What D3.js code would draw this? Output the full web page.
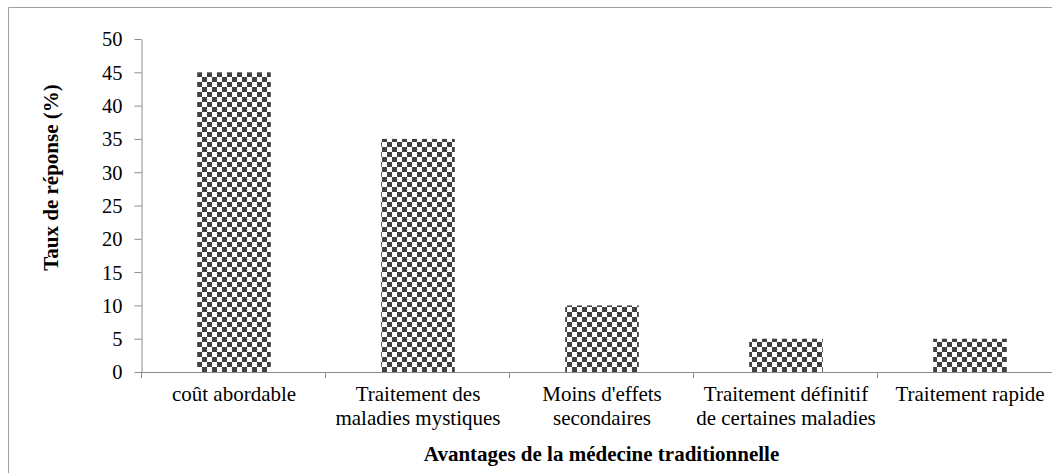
<!DOCTYPE html>
<html>
<head>
<meta charset="utf-8">
<script src="https://cdn.jsdelivr.net/npm/d3@7"></script>
<style>
  html, body { margin: 0; padding: 0; background: #fff; overflow: hidden; }
  svg { display: block; }
  svg text { font-family: "Liberation Serif", "DejaVu Serif", serif; }
</style>
</head>
<body>
<svg id="chart" width="1052" height="473"></svg>
<script>
const categories = [
  "coût abordable",
  "Traitement des\nmaladies mystiques",
  "Moins d'effets\nsecondaires",
  "Traitement définitif\nde certaines maladies",
  "Traitement rapide"
];
const values = [45, 35, 10, 5, 5];
const yTicks = [0, 5, 10, 15, 20, 25, 30, 35, 40, 45, 50];
const xTitle = "Avantages de la médecine traditionnelle";
const yTitle = "Taux de réponse (%)";

const svg = d3.select("#chart");
const FS = 21;
const TFS = 20.5;

// pattern
const defs = svg.append("defs");
const pat = defs.append("pattern")
  .attr("id", "checker")
  .attr("patternUnits", "userSpaceOnUse")
  .attr("width", 10).attr("height", 10)
  .attr("x", 197).attr("y", 72);
pat.append("rect").attr("width", 10).attr("height", 10).attr("fill", "#fff");
pat.append("rect").attr("x", 0).attr("y", 0).attr("width", 5).attr("height", 5).attr("fill", "#404040");
pat.append("rect").attr("x", 5).attr("y", 5).attr("width", 5).attr("height", 5).attr("fill", "#404040");

// outer border (cropped at right / bottom)
svg.append("path")
  .attr("d", "M8.5,480 V7.5 H1060")
  .attr("fill", "none")
  .attr("stroke", "#a0a0a0")
  .attr("stroke-width", 1);

const x0 = 142, x1 = 1062, yTop = 39, yBot = 372;
const x = d3.scaleBand().domain(categories).range([x0, x1])
  .paddingInner(0.6).paddingOuter(0.3);
const y = d3.scaleLinear().domain([0, 50]).range([yBot, yTop]);

// bars
svg.append("g").selectAll("rect")
  .data(values)
  .join("rect")
  .attr("x", (d, i) => x(categories[i]))
  .attr("y", d => y(d))
  .attr("width", x.bandwidth())
  .attr("height", d => yBot - y(d))
  .attr("fill", "url(#checker)");

// y axis
const yAxis = d3.axisLeft(y).tickValues(yTicks).tickSize(7).tickPadding(12).tickSizeOuter(0);
const gy = svg.append("g").attr("transform", `translate(${x0 - 0.5},0)`).call(yAxis);
gy.attr("font-family", null).attr("font-size", null);
gy.select(".domain").attr("stroke", "#8c8c8c");
gy.selectAll(".tick line").attr("stroke", "#8c8c8c");
gy.selectAll(".tick text")
  .attr("font-size", TFS).attr("fill", "#000").attr("dy", "0.34em");

// x axis line
svg.append("line")
  .attr("x1", x0 - 0.5).attr("x2", 1060)
  .attr("y1", yBot + 0.5).attr("y2", yBot + 0.5)
  .attr("stroke", "#8c8c8c");

// category boundary ticks
const step = x.step();
const bounds = d3.range(categories.length + 1).map(i => x0 + i * step);
svg.append("g").selectAll("line")
  .data(bounds)
  .join("line")
  .attr("x1", d => Math.round(d) - 0.5).attr("x2", d => Math.round(d) - 0.5)
  .attr("y1", yBot).attr("y2", yBot + 6)
  .attr("stroke", "#8c8c8c");

// category labels (one text element per line)
const lab = svg.append("g").selectAll("g")
  .data(categories)
  .join("g")
  .attr("transform", d => `translate(${x(d) + x.bandwidth() / 2},401)`);
lab.each(function(d) {
  const lines = d.split("\n");
  d3.select(this).selectAll("text")
    .data(lines)
    .join("text")
    .attr("text-anchor", "middle")
    .attr("font-size", FS).attr("fill", "#000")
    .attr("y", (l, i) => i * 23.5)
    .text(l => l);
});

// axis titles
svg.append("text")
  .attr("x", 601.5).attr("y", 461)
  .attr("text-anchor", "middle")
  .attr("font-size", FS).attr("font-weight", "bold").attr("fill", "#000")
  .text(xTitle);

svg.append("text")
  .attr("transform", `translate(57.5,177.5) rotate(-90)`)
  .attr("text-anchor", "middle")
  .attr("font-size", FS).attr("font-weight", "bold").attr("fill", "#000")
  .text(yTitle);
</script>
</body>
</html>
